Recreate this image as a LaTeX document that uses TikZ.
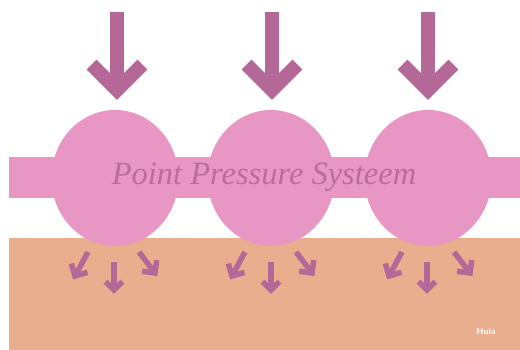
\documentclass[tikz,border=0pt]{standalone}
\usepackage{fontspec}
\setmainfont{Liberation Serif}
\usetikzlibrary{calc,shapes.geometric}

\definecolor{bandpink}{HTML}{E896C4}
\definecolor{arrowmauve}{HTML}{B46898}
\definecolor{skinpeach}{HTML}{E9AE8D}

% shaft from #2 to #3, chevron head at #3 with arms of length #4
\newcommand{\pressarrow}[4]{%
  \draw[#1] (#2) -- (#3);
  \draw[#1, line join=miter] ($(#3)!#4!45:(#2)$) -- (#3) -- ($(#3)!#4!-45:(#2)$);
}

\tikzset{
  bigpush/.style={draw=arrowmauve, line width=14pt, line cap=butt},
  smallpush/.style={draw=arrowmauve, line width=5.5pt, line cap=butt},
  ball/.style={ellipse, fill=bandpink, inner sep=0pt, minimum width=127pt, minimum height=136pt},
}

\begin{document}
\begin{tikzpicture}[x=1pt, y=-1pt]
  \useasboundingbox (0,0) rectangle (520,350);

  % Coordinates
  \coordinate (T_1) at (117, 12);
  \coordinate (H_1) at (117, 90);
  \coordinate (T_2) at (272, 12);
  \coordinate (H_2) at (272, 90);
  \coordinate (T_3) at (428, 12);
  \coordinate (H_3) at (428, 90);

  \coordinate (L_1) at (88, 252);
  \coordinate (LE_1) at (75, 276);
  \coordinate (C_1) at (114, 262);
  \coordinate (CE_1) at (114, 290);
  \coordinate (R_1) at (139, 252);
  \coordinate (RE_1) at (155, 273);

  \coordinate (L_2) at (245, 252);
  \coordinate (LE_2) at (232, 276);
  \coordinate (C_2) at (271, 262);
  \coordinate (CE_2) at (271, 290);
  \coordinate (R_2) at (296, 252);
  \coordinate (RE_2) at (312, 273);

  \coordinate (L_3) at (402, 252);
  \coordinate (LE_3) at (389, 276);
  \coordinate (C_3) at (427, 262);
  \coordinate (CE_3) at (427, 290);
  \coordinate (R_3) at (454, 252);
  \coordinate (RE_3) at (470, 273);

  % Drawing
  \fill[skinpeach] (9, 238) rectangle (520, 350);
  \fill[bandpink] (9, 157) rectangle (520, 198);
  \node[ball] (ball1) at (115, 178) {};
  \node[ball] (ball2) at (271, 178) {};
  \node[ball] (ball3) at (428, 178) {};

  \pressarrow{bigpush}{T_1}{H_1}{36pt}
  \pressarrow{bigpush}{T_2}{H_2}{36pt}
  \pressarrow{bigpush}{T_3}{H_3}{36pt}

  \pressarrow{smallpush}{L_1}{LE_1}{13pt}
  \pressarrow{smallpush}{C_1}{CE_1}{12pt}
  \pressarrow{smallpush}{R_1}{RE_1}{13pt}
  \pressarrow{smallpush}{L_2}{LE_2}{13pt}
  \pressarrow{smallpush}{C_2}{CE_2}{12pt}
  \pressarrow{smallpush}{R_2}{RE_2}{13pt}
  \pressarrow{smallpush}{L_3}{LE_3}{13pt}
  \pressarrow{smallpush}{C_3}{CE_3}{12pt}
  \pressarrow{smallpush}{R_3}{RE_3}{13pt}

  \node[text=arrowmauve!90!bandpink, font=\fontsize{32.5}{34}\selectfont\itshape] (title) at (264, 177) {Point Pressure Systeem};
  \node[text=white, font=\fontsize{9}{10}\selectfont\sffamily\bfseries] (mark) at (486, 331) {Hula};
\end{tikzpicture}
\end{document}
